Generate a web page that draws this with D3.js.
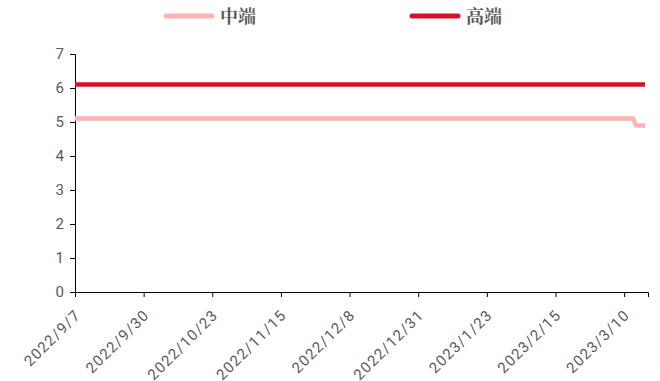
<!DOCTYPE html>
<html>
<head>
<meta charset="utf-8">
<script src="https://cdn.jsdelivr.net/npm/d3@7"></script>
<style>
  body { margin: 0; background: #fff; }
  svg text { font-family: Roboto, "Liberation Sans", sans-serif; fill: #595959; }
</style>
</head>
<body>
<div id="chart"></div>
<script>
// data
var seriesNames = ["中端", "高端"];
var seriesColors = ["#ffb3b3", "#d7102a"];
var midDates = ["2022/9/7", "2023/3/13", "2023/3/14", "2023/3/17"];
var midValues = [5.1, 5.1, 4.9, 4.9];
var highDates = ["2022/9/7", "2023/3/17"];
var highValues = [6.1, 6.1];
var tickDates = ["2022/9/7", "2022/9/30", "2022/10/23", "2022/11/15", "2022/12/8",
                 "2022/12/31", "2023/1/23", "2023/2/15", "2023/3/10"];
var yTicks = [0, 1, 2, 3, 4, 5, 6, 7];

var w = 660, h = 381;
var margin = {left: 75, right: 12, top: 54, bottom: 89};

var parse = d3.timeParse("%Y/%m/%d");

var svg = d3.select("#chart").append("svg")
  .attr("width", w)
  .attr("height", h);

var x = d3.scaleTime()
  .domain([parse("2022/9/7"), parse("2023/3/18")])
  .range([margin.left, w - margin.right]);

var y = d3.scaleLinear()
  .domain([0, 7])
  .range([h - margin.bottom, margin.top]);

// y axis
var yAxis = svg.append("g")
  .attr("transform", "translate(" + margin.left + ",0)")
  .call(d3.axisLeft(y).tickValues(yTicks).tickSize(5).tickPadding(6).tickFormat(d3.format("d")));
yAxis.selectAll("text").style("font-size", "15px");
yAxis.select(".domain").attr("stroke", "#000");
yAxis.selectAll(".tick line").attr("stroke", "#000");

// x axis
var xAxis = svg.append("g")
  .attr("transform", "translate(0," + (h - margin.bottom) + ")")
  .call(d3.axisBottom(x).tickValues(tickDates.map(parse)).tickSize(5)
    .tickFormat(function(d, i) { return tickDates[i]; }));
xAxis.select(".domain").attr("stroke", "#000");
xAxis.selectAll(".tick line").attr("stroke", "#000");
xAxis.selectAll("text")
  .style("font-size", "15px")
  .style("letter-spacing", "1.2px")
  .attr("text-anchor", "end")
  .attr("dy", null)
  .attr("y", 0)
  .attr("transform", "translate(6,24) rotate(-45)");

var line = d3.line()
  .x(function(d) { return x(d.date); })
  .y(function(d) { return y(d.value); });

function makeSeries(dates, values) {
  return dates.map(function(d, i) { return {date: parse(d), value: values[i]}; });
}

var allSeries = [makeSeries(midDates, midValues), makeSeries(highDates, highValues)];

svg.selectAll(".series")
  .data(allSeries)
  .enter()
  .append("path")
  .attr("class", "series")
  .attr("d", line)
  .attr("fill", "none")
  .attr("stroke", function(d, i) { return seriesColors[i]; })
  .attr("stroke-width", 4.5)
  .attr("stroke-linejoin", "round");

// legend
var legendX = [166, 412];
var legend = svg.selectAll(".legend")
  .data(seriesNames)
  .enter()
  .append("g")
  .attr("class", "legend")
  .attr("transform", function(d, i) { return "translate(" + legendX[i] + ",16)"; });

legend.append("line")
  .attr("x1", 0).attr("x2", 46)
  .attr("y1", 0).attr("y2", 0)
  .attr("stroke", function(d, i) { return seriesColors[i]; })
  .attr("stroke-width", 5)
  .attr("stroke-linecap", "round");

legend.append("text")
  .attr("x", 54)
  .attr("y", 7)
  .style("font-family", "'Noto Serif CJK SC', 'Noto Sans CJK SC', serif")
  .style("font-size", "18px")
  .style("font-weight", "bold")
  .text(function(d) { return d; });
</script>
</body>
</html>
